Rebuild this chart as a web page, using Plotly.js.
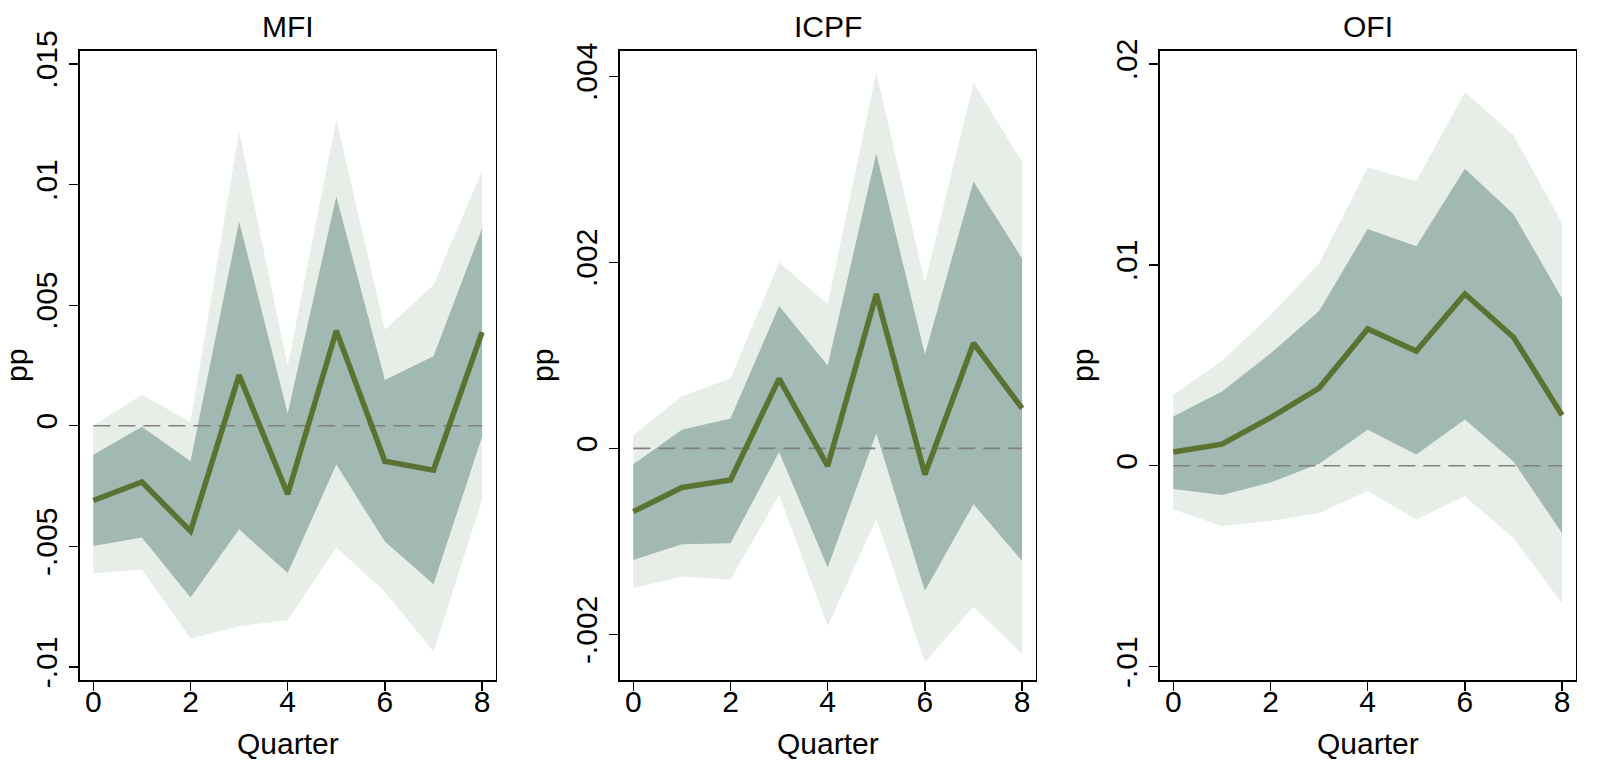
<!DOCTYPE html>
<html>
<head>
<meta charset="utf-8">
<script src="https://cdn.plot.ly/plotly-3.0.1.min.js"></script>
<style>html,body{margin:0;padding:0;background:#fff;}#chart{width:1598px;height:772px;}</style>
</head>
<body>
<div id="chart"></div>
<script>
// Horizon (quarters)
const quarters = [0, 1, 2, 3, 4, 5, 6, 7, 8];

// MFI
const mfiIrf     = [-0.0031, -0.00233, -0.00437, 0.0021, -0.00284, 0.00394, -0.00147, -0.00184, 0.00388];
const mfiHi68    = [-0.0012, -0.00004, -0.00147, 0.00847, 0.00051, 0.00951, 0.0019, 0.00288, 0.00818];
const mfiLo68    = [-0.00498, -0.00463, -0.00712, -0.00429, -0.0061, -0.00161, -0.0048, -0.00657, -0.00045];
const mfiHi90    = [0.0000, 0.00129, 0.00016, 0.0122, 0.00247, 0.0127, 0.00398, 0.00584, 0.01057];
const mfiLo90    = [-0.00612, -0.00596, -0.00882, -0.00831, -0.00806, -0.00504, -0.00688, -0.00937, -0.00306];

// ICPF
const icpfIrf    = [-0.00068, -0.00042, -0.00034, 0.00075, -0.00019, 0.00166, -0.00028, 0.00113, 0.00043];
const icpfHi68   = [-0.00017, 0.0002, 0.00032, 0.00153, 0.00089, 0.00317, 0.00101, 0.00287, 0.00204];
const icpfLo68   = [-0.0012, -0.00103, -0.00102, -0.00004, -0.00128, 0.00016, -0.00153, -0.0006, -0.00121];
const icpfHi90   = [0.00014, 0.00056, 0.00075, 0.002, 0.00155, 0.00404, 0.00178, 0.00393, 0.00308];
const icpfLo90   = [-0.0015, -0.00138, -0.00141, -0.0005, -0.00191, -0.00076, -0.0023, -0.0017, -0.00221];

// OFI
const ofiIrf     = [0.00069, 0.00108, 0.0024, 0.00387, 0.00681, 0.00571, 0.00855, 0.0064, 0.00252];
const ofiHi68    = [0.00245, 0.0037, 0.00559, 0.0077, 0.01179, 0.01093, 0.01478, 0.01252, 0.00833];
const ofiLo68    = [-0.00115, -0.00145, -0.00083, 0.0001, 0.00179, 0.00056, 0.0023, 0.00022, -0.00336];
const ofiHi90    = [0.00353, 0.00522, 0.0075, 0.01007, 0.01485, 0.01417, 0.0186, 0.01645, 0.01208];
const ofiLo90    = [-0.00218, -0.00299, -0.00275, -0.00235, -0.00125, -0.00267, -0.00152, -0.0036, -0.00684];

// Panel titles and y tick labels
const panelTitles = ["MFI", "ICPF", "OFI"];
const mfiTickVals  = [-0.01, -0.005, 0, 0.005, 0.01, 0.015];
const mfiTickText  = ["-.01", "-.005", "0", ".005", ".01", ".015"];
const icpfTickVals = [-0.002, 0, 0.002, 0.004];
const icpfTickText = ["-.002", "0", ".002", ".004"];
const ofiTickVals  = [-0.01, 0, 0.01, 0.02];
const ofiTickText  = ["-.01", "0", ".01", ".02"];
const xTickVals = [0, 2, 4, 6, 8];

const panels = [
  {irf: mfiIrf, hi68: mfiHi68, lo68: mfiLo68, hi90: mfiHi90, lo90: mfiLo90, tv: mfiTickVals, tt: mfiTickText, range: [-0.01054, 0.01555]},
  {irf: icpfIrf, hi68: icpfHi68, lo68: icpfLo68, hi90: icpfHi90, lo90: icpfLo90, tv: icpfTickVals, tt: icpfTickText, range: [-0.00249, 0.004275]},
  {irf: ofiIrf, hi68: ofiHi68, lo68: ofiLo68, hi90: ofiHi90, lo90: ofiLo90, tv: ofiTickVals, tt: ofiTickText, range: [-0.01066, 0.02066]}
];

const W = 1598, H = 772;
const xDomains = [[80 / W, 495.7 / W], [620 / W, 1035.7 / W], [1160 / W, 1575.7 / W]];
const yDomain = [1 - 680 / H, 1 - 50.7 / H];

const FONT = "Liberation Sans, Arial, Helvetica, sans-serif";
const FS = 30;
const LIGHT = "#e7ede7", DARK = "#a1b8b3", LINE = "#5b7332";

const traces = [];
const layout = {
  width: W, height: H,
  margin: {l: 0, r: 0, t: 0, b: 0},
  paper_bgcolor: "#ffffff",
  plot_bgcolor: "#ffffff",
  showlegend: false,
  font: {family: FONT, size: FS, color: "#000"},
  annotations: []
};

panels.forEach((p, i) => {
  const n = i === 0 ? "" : String(i + 1);
  const xa = "x" + n, ya = "y" + n;
  const base = {x: quarters, xaxis: xa, yaxis: ya, mode: "lines", hoverinfo: "skip"};
  traces.push(Object.assign({}, base, {y: p.lo90, line: {width: 0, color: LIGHT}}));
  traces.push(Object.assign({}, base, {y: p.hi90, line: {width: 0, color: LIGHT}, fill: "tonexty", fillcolor: LIGHT}));
  traces.push(Object.assign({}, base, {y: p.lo68, line: {width: 0, color: DARK}}));
  traces.push(Object.assign({}, base, {y: p.hi68, line: {width: 0, color: DARK}, fill: "tonexty", fillcolor: DARK}));
  traces.push(Object.assign({}, base, {y: quarters.map(() => 0), line: {width: 1.6, color: "#808080", dash: "17px,8px"}}));
  traces.push(Object.assign({}, base, {y: p.irf, line: {width: 5.5, color: LINE}}));

  layout["xaxis" + n] = {
    domain: xDomains[i], anchor: ya, range: [-0.274, 8.28],
    tickvals: xTickVals, ticktext: xTickVals.map(String),
    ticks: "outside", ticklen: 9, tickwidth: 1.3, tickcolor: "#000",
    ticklabelstandoff: -15,
    showline: true, mirror: true, linecolor: "#000", linewidth: 1.6,
    showgrid: false, zeroline: false,
    tickfont: {family: FONT, size: FS, color: "#000"},
    title: {text: "Quarter", font: {family: FONT, size: FS, color: "#000"}, standoff: 16}
  };
  layout["yaxis" + n] = {
    domain: yDomain, anchor: xa, range: p.range,
    tickvals: p.tv, ticktext: p.tt, tickangle: -90,
    ticks: "outside", ticklen: 9, tickwidth: 1.3, tickcolor: "#000",
    showline: true, mirror: true, linecolor: "#000", linewidth: 1.6,
    showgrid: false, zeroline: false,
    tickfont: {family: FONT, size: FS, color: "#000"},
    title: {text: "pp", font: {family: FONT, size: FS, color: "#000"}, standoff: 8}
  };
  layout.annotations.push({
    text: panelTitles[i], xref: "paper", yref: "paper",
    x: (xDomains[i][0] + xDomains[i][1]) / 2, y: 1 - 26 / H,
    xanchor: "center", yanchor: "middle", showarrow: false,
    font: {family: FONT, size: FS, color: "#000"}
  });
});

Plotly.newPlot("chart", traces, layout, {displayModeBar: false, staticPlot: true});
</script>
</body>
</html>
